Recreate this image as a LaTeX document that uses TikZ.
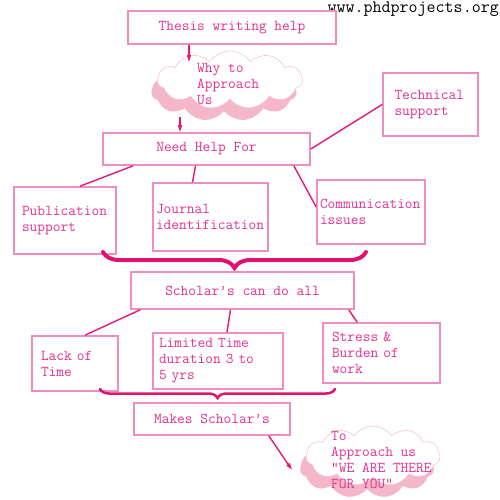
\documentclass[tikz,border=0pt]{standalone}
\usepackage{fontspec}
\newfontfamily\monofont{Latin Modern Mono}
\newcommand\monotxt{\monofont\fontsize{15}{16}\selectfont}
\usetikzlibrary{arrows.meta,shapes.symbols,shadows,decorations.pathreplacing}

\definecolor{txtpink}{HTML}{E5308E}
\definecolor{boxpink}{HTML}{F08CBF}
\definecolor{linepink}{HTML}{E3187A}
\definecolor{bracepink}{HTML}{E0126F}
\definecolor{cloudpink}{HTML}{F4B7C9}
\definecolor{cloudline}{HTML}{F5C3D2}

\begin{document}
\begin{tikzpicture}[
  x=1pt, y=-1pt,
  box/.style={
    draw=boxpink, fill=white, rectangle, line width=1.6pt,
    align=left, font=\monotxt, text=txtpink, inner sep=0pt
  },
  hdr/.style={box, align=center},
  blob/.style={
    cloud, cloud puffs=11, cloud puff arc=110, cloud ignores aspect,
    fill=white, draw=cloudline, line width=0.6pt, inner sep=0pt,
    drop shadow={shadow xshift=-6pt, shadow yshift=-12pt, fill=cloudpink, opacity=1}
  },
  ctext/.style={anchor=north west, align=left, font=\monotxt, text=txtpink, inner sep=0pt},
  lnk/.style={linepink, line width=1.4pt},
  arr/.style={-{Triangle[open, length=7pt, width=4pt]}, linepink, line width=1.4pt},
  brc/.style={bracepink, line width=4pt, line cap=round, decorate,
    decoration={brace, mirror, amplitude=16pt}}
]
\useasboundingbox (0,0) rectangle (500,500);

%% ── Site name ────────────────────────────────────────────────
\node[anchor=base east, inner sep=0pt, font=\monofont\fontsize{17.5}{18}\selectfont]
  (url) at (499,12.5) {www.phdprojects.org};

%% ── Top part ─────────────────────────────────────────────────
\node[hdr, minimum width=208pt, minimum height=33pt] (thesis) at (232,27.5) {Thesis writing help};

\node[blob, minimum width=145pt, minimum height=58pt] (whyA) at (230,80) {};
\node[ctext] (whyAtxt) at (197,63) {Why to\\Approach\\Us};

\node[hdr, minimum width=207pt, minimum height=32pt] (need) at (206.5,149) {Need Help For};
\node[box, minimum width=95pt, minimum height=63pt, text width=72pt] (tech) at (430.5,104.5)
  {Technical\\support};

\coordinate (tipA) at (189,62);
\draw[arr] (thesis.south -| tipA) -- (tipA);
\coordinate (tailB) at (180,117);
\draw[arr] (tailB) -- (tailB |- need.north);

%% ── Help row ─────────────────────────────────────────────────
\node[box, minimum width=102pt, minimum height=67pt, text width=86pt] (pub) at (65,220.5)
  {Publication\\support};
\node[box, minimum width=115pt, minimum height=68pt, text width=109pt] (jour) at (210.5,217)
  {Journal\\identification};
\node[box, minimum width=108pt, minimum height=64pt, text width=102pt] (comm) at (371,212)
  {Communication\\issues};

\draw[lnk] ([xshift=31pt]need.south west) -- ([xshift=15pt]pub.north);
\draw[lnk] ([xshift=-11pt]need.south) -- ([xshift=-18pt]jour.north);
\draw[lnk] ([xshift=-17pt]need.south east) -- ([yshift=5pt]comm.west);
\draw[lnk] (need.east) -- (tech.west);

\coordinate (brA1) at (103,252);
\coordinate (brA2) at (366,252);
\draw[brc] (brA1) -- (brA2);

%% ── Scholar row ──────────────────────────────────────────────
\node[hdr, minimum width=223pt, minimum height=37pt] (schol) at (242.5,290.5) {Scholar’s can do all};

\node[box, minimum width=86pt, minimum height=55pt, text width=68pt] (lack) at (75,363.5)
  {Lack of\\Time};
\node[box, minimum width=130pt, minimum height=56pt, text width=118pt] (lim) at (218,361)
  {Limited Time\\duration 3 to\\5 yrs};
\node[box, minimum width=117pt, minimum height=60pt, text width=99pt] (stress) at (381.5,353)
  {Stress \&\\Burden of\\work};

\draw[lnk] ([xshift=10pt]schol.south west) -- ([xshift=10pt]lack.north);
\draw[lnk] ([xshift=-12pt]schol.south) -- ([xshift=9pt]lim.north);
\draw[lnk] ([xshift=-6pt]schol.south east) -- ([xshift=35pt]stress.north west);

\coordinate (brB1) at (100,389);
\coordinate (brB2) at (335,389);
\draw[brc, line width=2.5pt, decoration={brace, mirror, amplitude=9pt}] (brB1) -- (brB2);

%% ── Bottom part ──────────────────────────────────────────────
\node[hdr, minimum width=156pt, minimum height=32pt] (makes) at (212,419) {Makes Scholar’s};

\node[blob, minimum width=134pt, minimum height=60pt] (youB) at (373,456) {};
\node[ctext] (youBtxt) at (331,431) {To\\Approach us\\“WE ARE THERE\\FOR YOU”};

\coordinate (tipC) at (292,470);
\draw[arr] ([xshift=-22pt]makes.south east) -- (tipC);

\end{tikzpicture}
\end{document}
